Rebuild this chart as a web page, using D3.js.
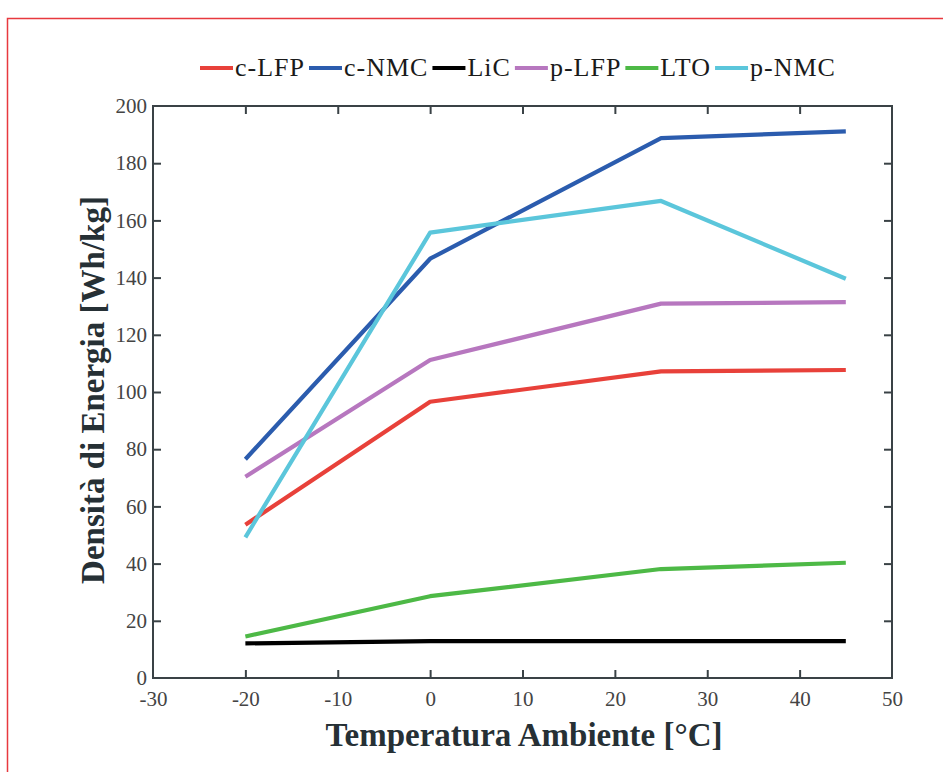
<!DOCTYPE html>
<html>
<head>
<meta charset="utf-8">
<script src="https://cdn.jsdelivr.net/npm/d3@7.9.0/dist/d3.min.js"></script>
<style>
  body { margin: 0; background: #fff; }
  svg { display: block; }
</style>
</head>
<body>
<svg id="chart" width="943" height="772"></svg>
<script>
const temps = [-20, 0, 25, 45];
const series = [
  { name: 'c-LFP', color: '#e8413a', values: [53.6, 96.6, 107.2, 107.7] },
  { name: 'c-NMC', color: '#2b5cae', values: [76.5, 146.6, 188.8, 191.1] },
  { name: 'LiC',   color: '#000000', values: [12.1, 12.9, 12.9, 12.9] },
  { name: 'p-LFP', color: '#b777bf', values: [70.4, 111.2, 130.9, 131.4] },
  { name: 'LTO',   color: '#4db946', values: [14.5, 28.6, 38.1, 40.3] },
  { name: 'p-NMC', color: '#5bc6db', values: [49.2, 155.7, 166.8, 139.6] }
];
const xTicks = [-30, -20, -10, 0, 10, 20, 30, 40, 50];
const yTicks = [0, 20, 40, 60, 80, 100, 120, 140, 160, 180, 200];

const svg = d3.select('#chart');
const font = '"Liberation Serif", "Times New Roman", serif';
const axisColor = '#3a4246';

// red frame (only top and left visible)
svg.append('path')
  .attr('d', 'M7.5,772 L7.5,18.5 L943,18.5')
  .attr('fill', 'none')
  .attr('stroke', '#e8393f')
  .attr('stroke-width', 1.5);

const area = { left: 153, right: 892, top: 106, bottom: 678 };

const xScale = d3.scaleLinear().domain([-30, 50]).range([area.left, area.right]);
const yScale = d3.scaleLinear().domain([0, 200]).range([area.bottom, area.top]);

// lines
const line = d3.line()
  .x((d, i) => xScale(temps[i]))
  .y((d) => yScale(d));

svg.append('g')
  .selectAll('path')
  .data(series)
  .join('path')
  .attr('d', (d) => line(d.values))
  .attr('fill', 'none')
  .attr('stroke', (d) => d.color)
  .attr('stroke-width', 4.2)
  .attr('stroke-linejoin', 'round');

// axes (ticks inside, mirrored)
const tickLen = 8;
const fmt = (d) => String(d);
function styleAxis(g) {
  g.selectAll('.domain').remove();
  g.selectAll('line').attr('stroke', axisColor).attr('stroke-width', 2);
  g.selectAll('text')
    .attr('fill', '#444')
    .style('font-family', font)
    .style('font-size', '21px');
}

svg.append('g')
  .attr('transform', `translate(0, ${area.bottom})`)
  .call(d3.axisBottom(xScale).tickValues(xTicks).tickSize(-tickLen).tickPadding(13).tickFormat(fmt))
  .call(styleAxis)
  .selectAll('line').filter((d) => d === -30 || d === 50).remove();

svg.append('g')
  .attr('transform', `translate(0, ${area.top})`)
  .call(d3.axisTop(xScale).tickValues(xTicks).tickSize(-tickLen).tickFormat(''))
  .call(styleAxis)
  .selectAll('line').filter((d) => d === -30 || d === 50).remove();

svg.append('g')
  .attr('transform', `translate(${area.left}, 0)`)
  .call(d3.axisLeft(yScale).tickValues(yTicks).tickSize(-tickLen).tickPadding(6).tickFormat(fmt))
  .call(styleAxis)
  .selectAll('line').filter((d) => d === 0 || d === 200).remove();

svg.append('g')
  .attr('transform', `translate(${area.right}, 0)`)
  .call(d3.axisRight(yScale).tickValues(yTicks).tickSize(-tickLen).tickFormat(''))
  .call(styleAxis)
  .selectAll('line').filter((d) => d === 0 || d === 200).remove();

svg.append('rect')
  .attr('x', area.left)
  .attr('y', area.top)
  .attr('width', area.right - area.left)
  .attr('height', area.bottom - area.top)
  .attr('fill', 'none')
  .attr('stroke', axisColor)
  .attr('stroke-width', 2);

// axis titles
svg.append('text')
  .attr('x', 524)
  .attr('y', 746)
  .attr('text-anchor', 'middle')
  .attr('fill', '#263035')
  .style('font-family', font)
  .style('font-weight', 'bold')
  .style('font-size', '33px')
  .text('Temperatura Ambiente [°C]');

svg.append('text')
  .attr('transform', `translate(104, 390) rotate(-90)`)
  .attr('text-anchor', 'middle')
  .attr('fill', '#263035')
  .style('font-family', font)
  .style('font-weight', 'bold')
  .style('font-size', '33px')
  .text('Densità di Energia [Wh/kg]');

// legend, laid out left to right
const legend = svg.append('g').attr('transform', 'translate(200, 68)');
let lx = 0;
series.forEach((s) => {
  const item = legend.append('g').attr('transform', `translate(${lx}, 0)`);
  item.append('line')
    .attr('x1', 0).attr('x2', 33)
    .attr('stroke', s.color)
    .attr('stroke-width', 4.2);
  const t = item.append('text')
    .attr('x', 35)
    .attr('y', 8)
    .attr('fill', '#1a1a1a')
    .style('font-family', font)
    .style('font-size', '26px')
    .style('letter-spacing', '1px')
    .text(s.name);
  lx += 35 + t.node().getComputedTextLength() + 4;
});
</script>
</body>
</html>
